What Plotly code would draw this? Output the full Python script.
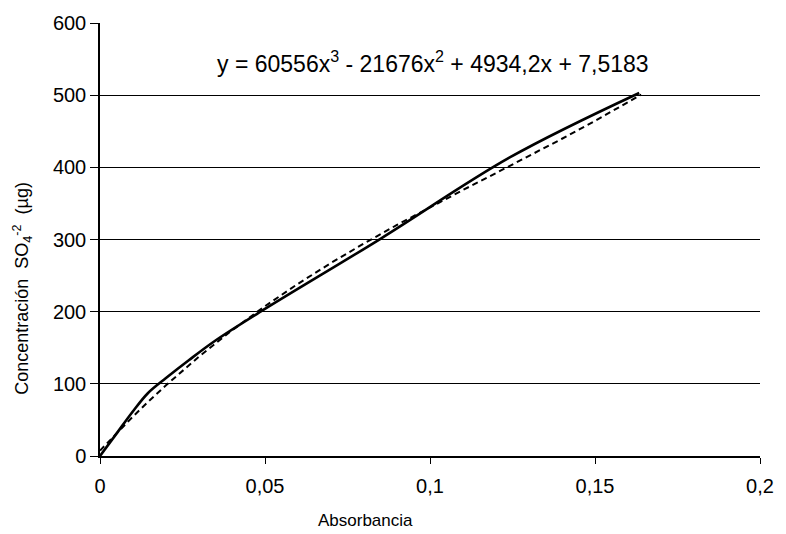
import plotly.graph_objects as go

# Measured calibration curve (solid)
abs_meas = [0, 0.005, 0.01, 0.0145, 0.02, 0.027, 0.035, 0.049, 0.085, 0.1243, 0.1634]
conc_meas = [0, 31, 62, 87, 108, 133, 160, 201, 301, 414, 503]

# Polynomial trendline (dashed)
abs_fit = [0, 0.005, 0.01, 0.015, 0.02, 0.03, 0.04, 0.05, 0.06, 0.07, 0.08, 0.09,
           0.10, 0.11, 0.12, 0.13, 0.14, 0.15, 0.16, 0.164]
conc_fit = [7.5, 31.6, 54.8, 76.9, 98.0, 137.7, 174.1, 207.6, 238.6, 267.5, 294.5, 320.2,
            344.7, 368.6, 392.1, 415.7, 439.6, 464.3, 490.1, 500.8]

x_ticks = [0, 0.05, 0.1, 0.15, 0.2]
y_ticks = [0, 100, 200, 300, 400, 500, 600]
grid_vals = [100, 200, 300, 400, 500]

equation = "y = 60556x<sup>3</sup> - 21676x<sup>2</sup> + 4934,2x + 7,5183"
x_title = "Absorbancia"
y_title = "Concentración  SO<sub>4</sub><sup>-2</sup>  (µg)"

FONT = "Liberation Sans, Arial, sans-serif"

fig = go.Figure()
fig.add_trace(go.Scatter(x=abs_fit, y=conc_fit, mode="lines",
                         line=dict(color="black", width=2, dash="6px,4px"),
                         showlegend=False, hoverinfo="skip"))
fig.add_trace(go.Scatter(x=abs_meas, y=conc_meas, mode="lines",
                         line=dict(color="black", width=2.6, shape="spline", smoothing=1.0),
                         showlegend=False))
# invisible trace for label axis
fig.add_trace(go.Scatter(x=[0], y=[0], yaxis="y2", mode="markers",
                         marker=dict(opacity=0), showlegend=False, hoverinfo="skip"))

fig.update_layout(
    width=786, height=534,
    margin=dict(l=100, r=21, t=23, b=78),
    paper_bgcolor="white", plot_bgcolor="white",
    separators=", ",
    font=dict(family=FONT, color="black", size=20),
    xaxis=dict(range=[0, 0.2], tickvals=x_ticks, showgrid=False, zeroline=False,
               showline=True, linecolor="black", linewidth=1.5,
               ticks="outside", ticklen=6, tickcolor="black",
               tickfont=dict(size=20), ticklabelstandoff=5),
    yaxis=dict(range=[0, 600], tickvals=grid_vals, showticklabels=False,
               showgrid=True, gridcolor="black", gridwidth=1.2, zeroline=False,
               showline=False, ticks=""),
    yaxis2=dict(range=[0, 600], overlaying="y", side="left", tickvals=y_ticks,
                showgrid=False, zeroline=False, showline=True, linecolor="black",
                linewidth=1.5, ticks="outside", ticklen=8, tickcolor="black",
                tickfont=dict(size=20)),
    annotations=[
        dict(text=equation, xref="paper", yref="paper", x=0.505, y=0.91,
             showarrow=False, font=dict(size=23), xanchor="center", yanchor="middle"),
        dict(text=x_title, xref="paper", yref="paper", x=0.403, y=-0.148,
             showarrow=False, font=dict(size=17), xanchor="center", yanchor="middle"),
        dict(text=y_title, xref="paper", yref="paper", x=-0.117, y=0.388,
             showarrow=False, font=dict(size=18), textangle=-90,
             xanchor="center", yanchor="middle"),
    ],
)

fig.write_html("out.html")
